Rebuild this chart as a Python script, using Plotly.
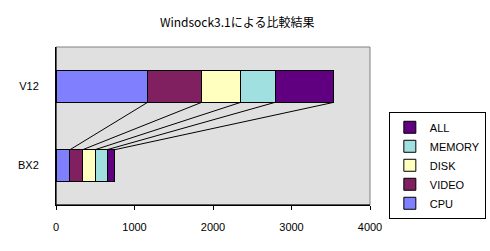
import plotly.graph_objects as go
import numpy as np

categories = ["BX2", "V12"]
series_names = ["CPU", "VIDEO", "DISK", "MEMORY", "ALL"]
cpu = [178, 1168]
video = [162, 689]
disk = [157, 498]
memory = [153, 438]
all_ = [98, 748]
colors = ["#8080FF", "#802060", "#FFFFC0", "#A0E0E0", "#600080"]
x_ticks = [0, 1000, 2000, 3000, 4000]
title = "Windsock3.1による比較結果"

values = [cpu, video, disk, memory, all_]
ypos = list(range(len(categories)))
bar_w = 0.4

fig = go.Figure()
for name, vals, col in zip(series_names, values, colors):
    fig.add_trace(go.Bar(
        y=ypos, x=vals, name=name, orientation="h", width=bar_w,
        marker=dict(color=col, line=dict(color="black", width=1)),
    ))

# series lines connecting cumulative boundaries
cum = np.cumsum(np.array(values), axis=0)
for k in range(len(series_names)):
    fig.add_trace(go.Scatter(
        x=[cum[k][0], cum[k][1]],
        y=[ypos[0] + bar_w / 2, ypos[1] - bar_w / 2],
        mode="lines", line=dict(color="black", width=1),
        showlegend=False, hoverinfo="skip",
    ))

font_main = "Liberation Sans, Arial, sans-serif"
fig.update_layout(
    width=490, height=251,
    margin=dict(l=56, r=120, t=47, b=46, autoexpand=False),
    barmode="stack",
    paper_bgcolor="white",
    plot_bgcolor="#E0E0E0",
    font=dict(family=font_main, size=11, color="black"),
    title=dict(text=title, x=0.484, xanchor="center", y=0.91, yanchor="middle",
               font=dict(family="Noto Sans CJK JP", size=12, color="black")),
    xaxis=dict(range=[0, 4000], tickvals=x_ticks, ticks="outside", ticklen=4,
               tickcolor="black", showgrid=False, zeroline=False,
               showline=True, linecolor="black", linewidth=1,
               ticklabelstandoff=8, fixedrange=True),
    yaxis=dict(range=[-0.5, 1.5], tickvals=ypos, ticktext=categories,
               ticks="", showgrid=False, zeroline=False,
               showline=True, linecolor="black", linewidth=1,
               ticklabelstandoff=14, fixedrange=True),
    legend=dict(x=1.06, y=0.59, xanchor="left", yanchor="top",
                traceorder="reversed", bordercolor="black", borderwidth=1,
                bgcolor="white", font=dict(size=11), itemwidth=30,
                tracegroupgap=0),
    showlegend=True,
)
# gray top/right border
fig.add_shape(type="rect", xref="paper", yref="paper", x0=0, x1=1, y0=0, y1=1,
              line=dict(color="#808080", width=1), layer="below")
fig.add_shape(type="line", xref="paper", yref="paper", x0=0, x1=0, y0=0, y1=1,
              line=dict(color="black", width=1))
fig.add_shape(type="line", xref="paper", yref="paper", x0=0, x1=1, y0=0, y1=0,
              line=dict(color="black", width=1))

fig.write_html("out.html")
